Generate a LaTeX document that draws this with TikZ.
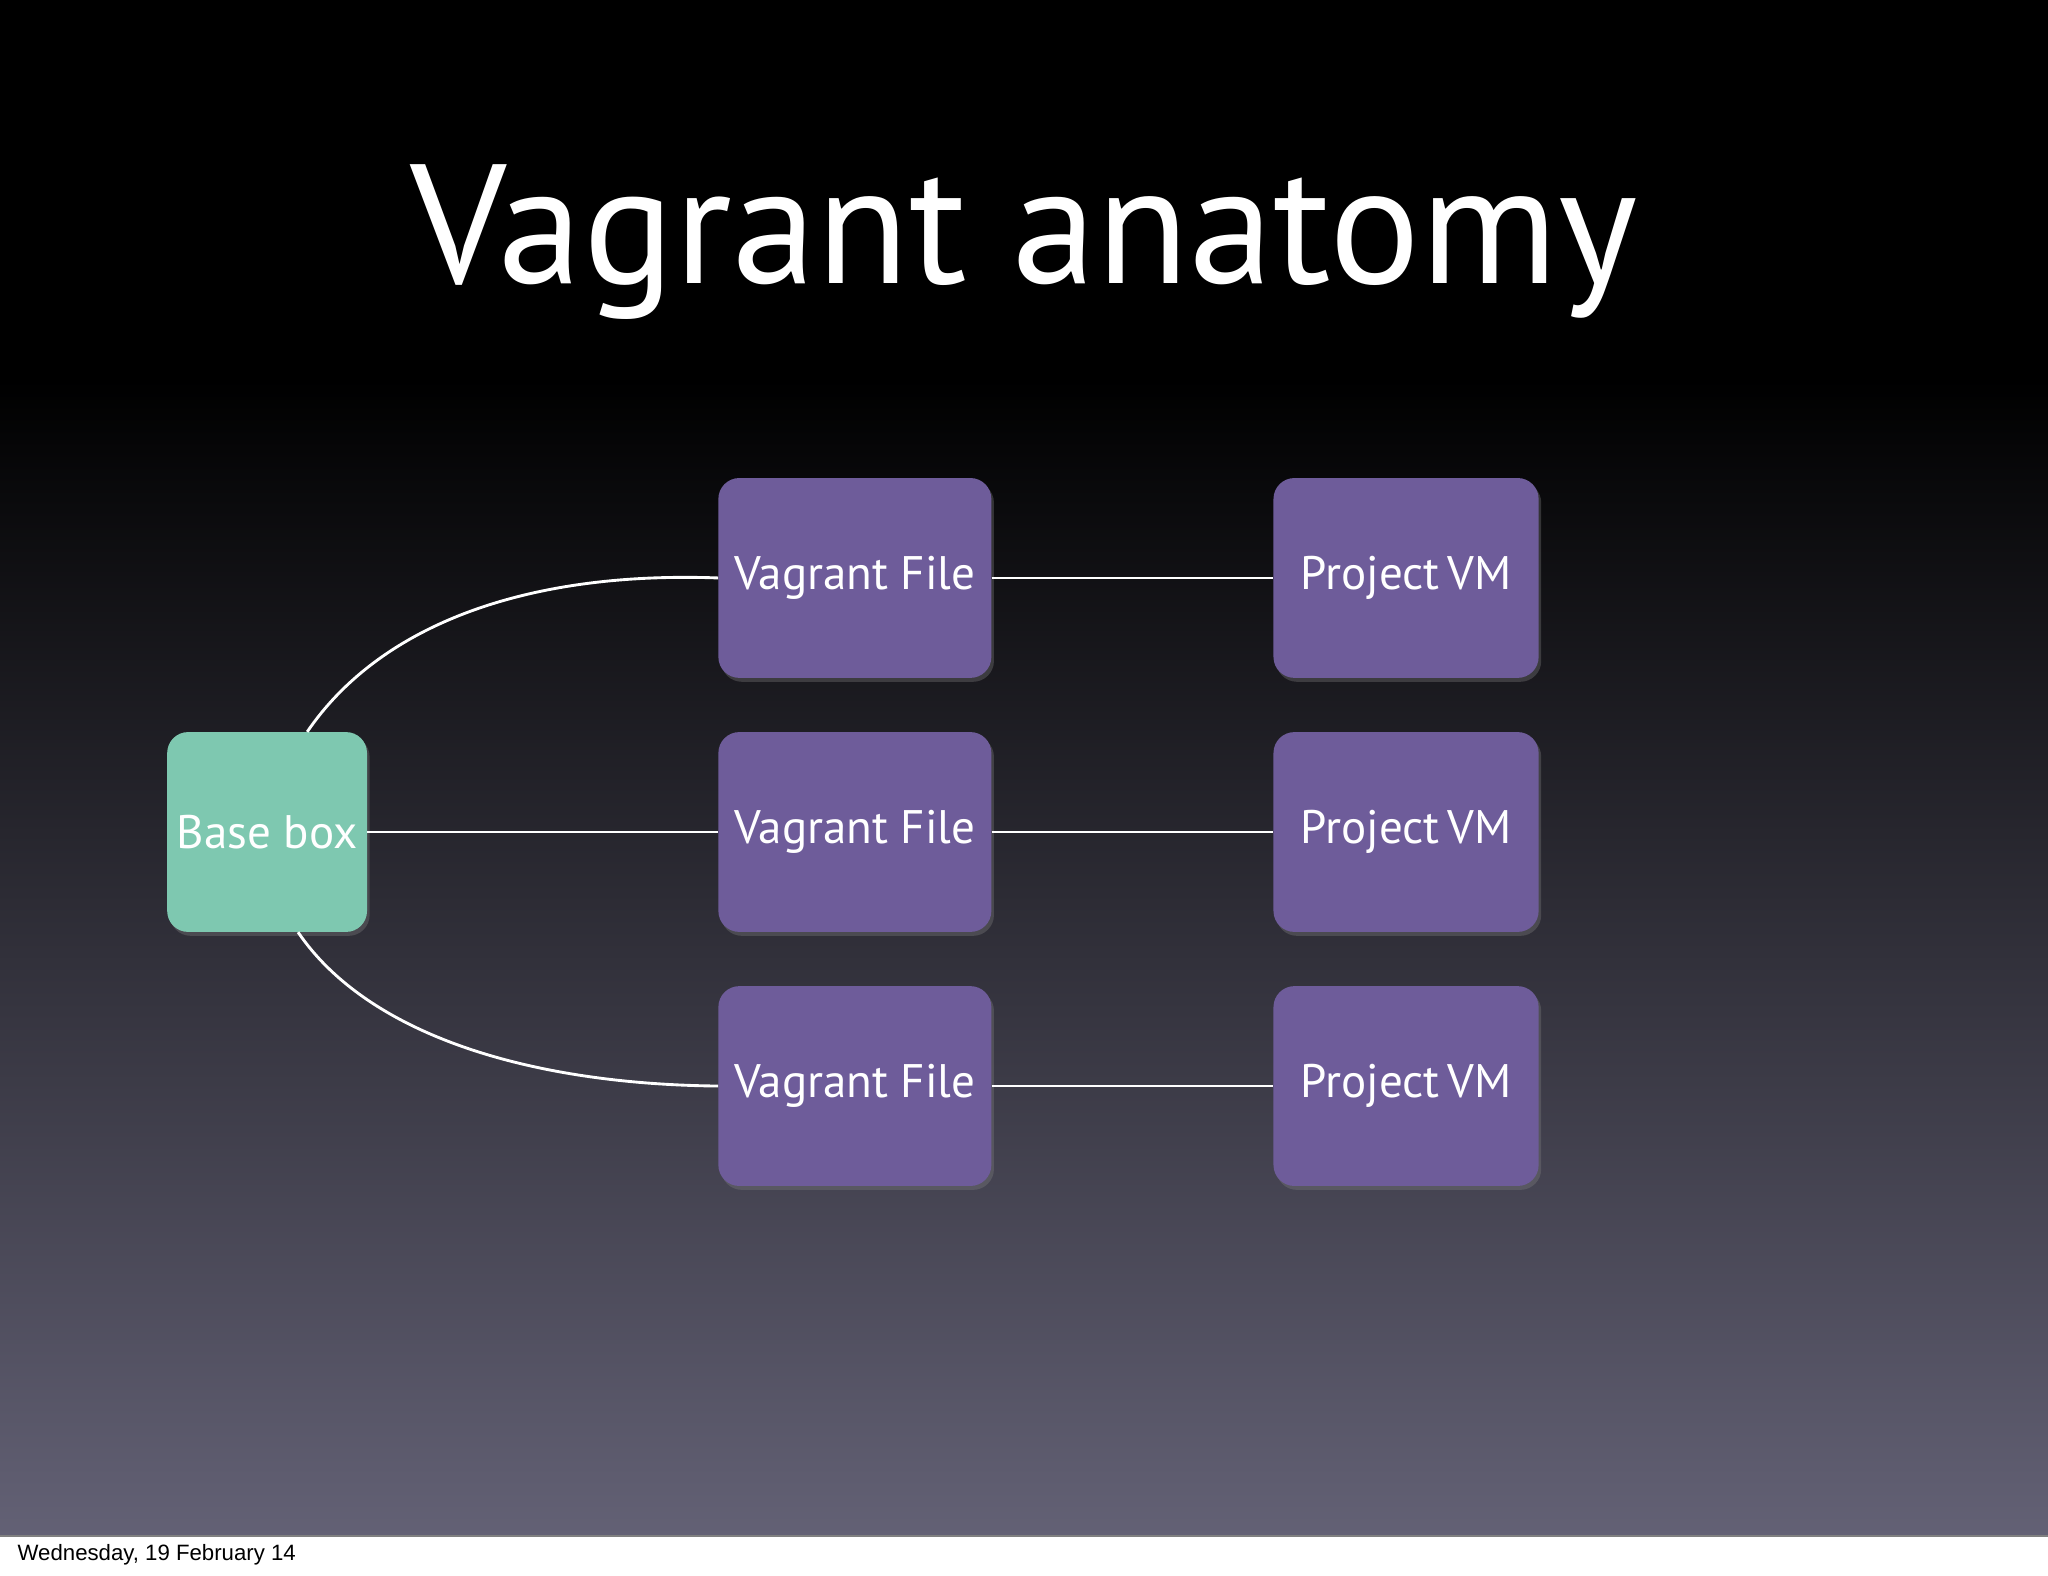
\documentclass[tikz,border=0pt]{standalone}
\usepackage{fontspec}
\setmainfont{PT Sans}
\newfontfamily\footfont{Liberation Sans}
\usetikzlibrary{shadows}
\definecolor{vpurple}{HTML}{6E5C9A}
\definecolor{vgreen}{HTML}{7EC8B0}
\definecolor{vbottom}{HTML}{636175}
\begin{document}
\begin{tikzpicture}[x=1pt,y=-1pt,
  box/.style={rounded corners=16pt,minimum width=209pt,minimum height=153pt,inner sep=0pt,
    text=white,font=\fontsize{36}{40}\selectfont,drop shadow={opacity=0.35,shadow xshift=2pt,shadow yshift=-3pt}},
  vbox/.style={box,fill=vpurple},
  pbox/.style={box,fill=vpurple,minimum width=203pt},
  link/.style={draw=white,line width=2.2pt}]
\useasboundingbox (0,0) rectangle (1568,1206);
\fill[white] (0,0) rectangle (1568,1206);
\fill[black] (0,0) rectangle (1568,290);
\shade[top color=black,bottom color=vbottom] (0,290) rectangle (1568,1176);
\draw[gray,line width=0.8pt] (0,1176) -- (1568,1176);
\node[text=white,font=\fontsize{130}{140}\selectfont] (title) at (784,185) {Vagrant anatomy};
\node[box,fill=vgreen,minimum width=153pt] (base) at (204.5,637) {Base box};
\node[vbox] (v1) at (654.5,442.5) {Vagrant File};
\node[vbox] (v2) at (654.5,637) {Vagrant File};
\node[vbox] (v3) at (654.5,831.5) {Vagrant File};
\node[pbox] (p1) at (1076.5,442.5) {Project\,VM};
\node[pbox] (p2) at (1076.5,637) {Project\,VM};
\node[pbox] (p3) at (1076.5,831.5) {Project\,VM};
\draw[link] (base.north east) ++(-46,0) coordinate (bt) .. controls (290,480) and (400,437) .. (v1.west);
\draw[link] (base.south east) ++(-53,0) coordinate (bb) .. controls (280,790) and (400,830) .. (v3.west);
\draw[link] (base.east) -- (v2.west);
\foreach \i in {1,2,3}{\draw[link] (v\i.east) -- (p\i.west);}
\node[anchor=west,font=\footfont\fontsize{17}{20}\selectfont] (foot) at (10,1190) {Wednesday, 19 February 14};
\end{tikzpicture}
\end{document}
